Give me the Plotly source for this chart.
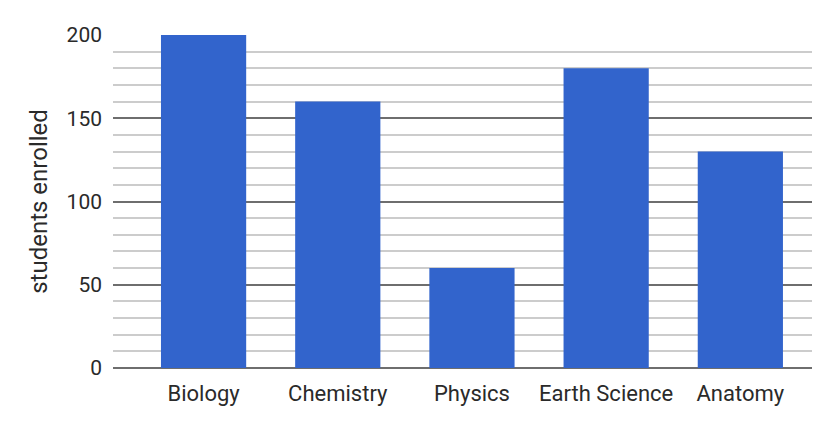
import plotly.graph_objects as go

categories = ["Biology", "Chemistry", "Physics", "Earth Science", "Anatomy"]
enrolled = [200, 160, 60, 180, 130]
y_ticks = [0, 50, 100, 150, 200]

fig = go.Figure(go.Bar(
    x=categories, y=enrolled,
    marker=dict(color="#3264CC", line=dict(width=0)),
    width=0.635,
))

fig.update_layout(
    width=822, height=420,
    margin=dict(l=105, r=18, t=27, b=60),
    paper_bgcolor="white", plot_bgcolor="white",
    font=dict(family="Roboto", color="#2a2a2a"),
    showlegend=False,
)
fig.update_xaxes(
    range=[-0.675, 4.534],
    tickfont=dict(size=22, color="#2a2a2a"),
    ticks="", showgrid=False, showline=False,
    ticklabelstandoff=10,
)
fig.update_yaxes(
    range=[0, 200],
    tickvals=y_ticks,
    tickfont=dict(size=21, color="#2a2a2a"),
    ticks="",
    showgrid=True, gridcolor="#6e6e6e", gridwidth=2,
    zeroline=True, zerolinecolor="#6e6e6e", zerolinewidth=2,
    minor=dict(dtick=10, showgrid=True, gridcolor="#cccccc", gridwidth=2),
    title=dict(text="students enrolled", font=dict(size=24, color="#2a2a2a"), standoff=12),
    ticklabelstandoff=10,
)
fig.write_html("out.html")
